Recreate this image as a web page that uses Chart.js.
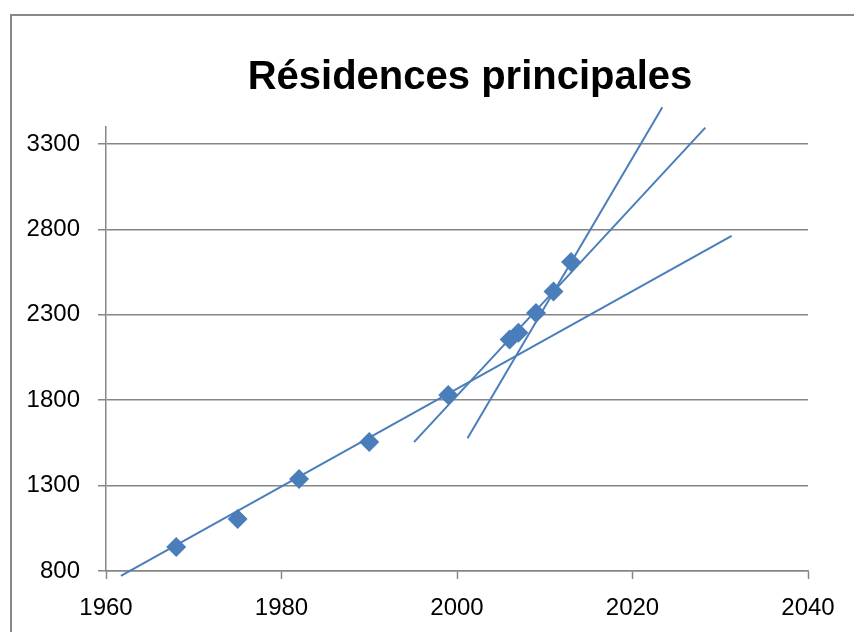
<!DOCTYPE html>
<html>
<head>
<meta charset="utf-8">
<script src="https://cdn.jsdelivr.net/npm/chart.js@4.4.1/dist/chart.umd.min.js"></script>
<style>
    html, body { margin: 0; padding: 0; background: #fff; overflow: hidden; }
    #cadre {
        position: absolute; left: 10px; top: 14px; width: 900px; height: 700px;
        border: 2px solid #888; box-sizing: border-box;
    }
    #titre {
        position: absolute; left: 470px; top: 55px; transform: translateX(-50%);
        white-space: nowrap; font: bold 40px/40px 'Liberation Sans', 'DejaVu Sans', sans-serif;
        color: #000;
    }
    #residencesChart { position: absolute; left: 0; top: 0; }
</style>
</head>
<body>
<div id="cadre"></div>
<canvas id="residencesChart" width="940" height="632"></canvas>
<div id="titre">Résidences principales</div>
<script>
// Données (milliers de résidences principales)
const annees = [1968, 1975, 1982, 1990, 1999, 2006, 2007, 2009, 2011, 2013];
const residences = [940, 1104, 1339, 1555, 1831, 2155, 2195, 2311, 2436, 2609];

// Droites de tendance (extrémités)
const tendance1X = [1961.7, 2031.3];
const tendance1Y = [771, 2762];
const tendance2X = [1995.1, 2028.3];
const tendance2Y = [1555, 3396];
const tendance3X = [2001.2, 2023.4];
const tendance3Y = [1577, 3515];

// Graduations
const xTicks = [1960, 1980, 2000, 2020, 2040];
const yTicks = [800, 1300, 1800, 2300, 2800, 3300];

const bleu = '#4a7ebb';
const gris = '#868686';
const police = "'Liberation Sans', 'DejaVu Sans', sans-serif";

function toPoints(xs, ys) {
    return xs.map((x, i) => ({ x: x, y: ys[i] }));
}

function trendLine(xs, ys) {
    return {
        data: toPoints(xs, ys),
        showLine: true,
        borderColor: bleu,
        borderWidth: 2,
        pointRadius: 0,
        clip: false,
        order: 2
    };
}

function createChart() {
    const ctx = document.getElementById('residencesChart').getContext('2d');
    new Chart(ctx, {
        type: 'scatter',
        data: {
            datasets: [
                {
                    label: 'Résidences principales',
                    data: toPoints(annees, residences),
                    pointStyle: 'rectRot',
                    pointRadius: 10,
                    backgroundColor: bleu,
                    borderWidth: 0,
                    order: 1
                },
                trendLine(tendance1X, tendance1Y),
                trendLine(tendance2X, tendance2Y),
                trendLine(tendance3X, tendance3Y)
            ]
        },
        options: {
            responsive: false,
            animation: false,
            devicePixelRatio: 1,
            layout: { padding: { left: 0, right: 132, top: 127, bottom: 11 } },
            plugins: {
                legend: { display: false },
                tooltip: { enabled: false },
                title: { display: false }
            },
            scales: {
                x: {
                    type: 'linear',
                    min: 1960,
                    max: 2040,
                    afterBuildTicks: scale => { scale.ticks = xTicks.map(v => ({ value: v })); },
                    afterFit: scale => { scale.height = 50; },
                    ticks: {
                        color: '#000',
                        font: { family: police, size: 24 },
                        padding: 15,
                        maxRotation: 0,
                        callback: v => String(v)
                    },
                    grid: {
                        drawOnChartArea: false,
                        drawTicks: true,
                        tickLength: 8,
                        tickColor: gris,
                        tickWidth: 1.5
                    },
                    border: { color: gris, width: 1.5 }
                },
                y: {
                    min: 800,
                    max: 3400,
                    afterBuildTicks: scale => { scale.ticks = yTicks.map(v => ({ value: v })); },
                    afterFit: scale => { scale.width = 106; },
                    ticks: {
                        color: '#000',
                        font: { family: police, size: 24 },
                        padding: 18,
                        callback: v => String(v)
                    },
                    grid: {
                        color: gris,
                        lineWidth: 1.5,
                        drawTicks: true,
                        tickLength: 8,
                        tickColor: gris,
                        tickWidth: 1.5
                    },
                    border: { color: gris, width: 1.5 }
                }
            }
        }
    });
}

document.addEventListener('DOMContentLoaded', createChart);
</script>
</body>
</html>
